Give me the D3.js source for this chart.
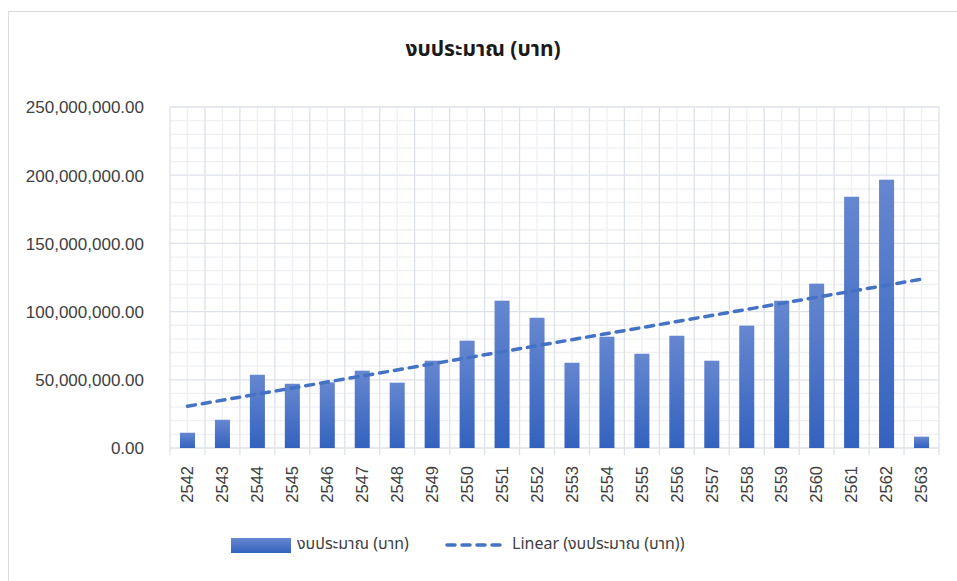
<!DOCTYPE html>
<html>
<head>
<meta charset="utf-8">
<script src="https://cdn.jsdelivr.net/npm/d3@7"></script>
<style>
  body { margin: 0; background: #fff; }
  svg { display: block; font-family: "Noto Sans Thai", "Noto Sans", "Open Sans", sans-serif; }
</style>
</head>
<body>
<div id="chart"></div>
<script>
// data
const years = ["2542","2543","2544","2545","2546","2547","2548","2549","2550","2551","2552",
               "2553","2554","2555","2556","2557","2558","2559","2560","2561","2562","2563"];
const budget = [11200000, 20700000, 53700000, 47100000, 48100000, 56700000, 47900000, 64000000,
                78700000, 108000000, 95500000, 62500000, 81600000, 69100000, 82300000, 64000000,
                89700000, 108000000, 120500000, 184200000, 196700000, 8300000];
const yTicks = [0, 50000000, 100000000, 150000000, 200000000, 250000000];
const titleText = "งบประมาณ (บาท)";
const seriesName = "งบประมาณ (บาท)";
const trendName = "Linear (งบประมาณ (บาท))";

const width = 957, height = 581;
const margin = { top: 107, right: 18, bottom: 133, left: 170 };

const svg = d3.select("#chart").append("svg")
  .attr("width", width)
  .attr("height", height);

// chart frame
svg.append("rect")
  .attr("x", 8.5).attr("y", 11.5)
  .attr("width", 990).attr("height", 600)
  .attr("fill", "#fff")
  .attr("stroke", "#d9dde3");

const defs = svg.append("defs");
const grad = defs.append("linearGradient")
  .attr("id", "barGrad")
  .attr("x1", 0).attr("y1", 0).attr("x2", 0).attr("y2", 1);
grad.append("stop").attr("offset", "0%").attr("stop-color", "#6687d0");
grad.append("stop").attr("offset", "100%").attr("stop-color", "#3362be");

const x = d3.scaleBand()
  .domain(years)
  .range([margin.left, width - margin.right])
  .paddingInner(0.57)
  .paddingOuter(0.285);

const band = d3.scaleBand()
  .domain(years)
  .range([margin.left, width - margin.right]);

const y = d3.scaleLinear()
  .domain([0, 250000000])
  .range([height - margin.bottom, margin.top]);

const g = svg.append("g");

// minor horizontal gridlines (every 10M)
g.append("g")
  .selectAll("line")
  .data(d3.range(0, 250000001, 10000000).filter(v => v % 50000000 !== 0))
  .join("line")
  .attr("x1", margin.left).attr("x2", width - margin.right)
  .attr("y1", d => y(d)).attr("y2", d => y(d))
  .attr("stroke", "#eef0f4").attr("stroke-width", 1.3);

// minor vertical gridlines (category centres)
g.append("g")
  .selectAll("line")
  .data(years)
  .join("line")
  .attr("x1", d => band(d) + band.bandwidth() / 2)
  .attr("x2", d => band(d) + band.bandwidth() / 2)
  .attr("y1", margin.top).attr("y2", y(0))
  .attr("stroke", "#eef0f4").attr("stroke-width", 1.3);

// major horizontal gridlines
g.append("g")
  .selectAll("line")
  .data(yTicks)
  .join("line")
  .attr("x1", margin.left).attr("x2", width - margin.right)
  .attr("y1", d => y(d)).attr("y2", d => y(d))
  .attr("stroke", "#dde2ea").attr("stroke-width", 1.3);

// major vertical gridlines (category boundaries) + ticks under the axis
const bounds = years.map(d => band(d)).concat([band.range()[1]]);
g.append("g")
  .selectAll("line")
  .data(bounds)
  .join("line")
  .attr("x1", d => d).attr("x2", d => d)
  .attr("y1", margin.top).attr("y2", y(0) + 7)
  .attr("stroke", "#dde2ea").attr("stroke-width", 1.3);

// y axis labels
const yAxis = svg.append("g")
  .attr("transform", `translate(${144},0)`)
  .call(d3.axisLeft(y).tickValues(yTicks).tickSize(0).tickPadding(0)
    .tickFormat(d3.format(",.2f")));
yAxis.select(".domain").remove();
yAxis.selectAll("text")
  .attr("fill", "#404040")
  .attr("font-size", "17px")
  .attr("dy", "0.35em");

// x axis labels
const xAxis = svg.append("g")
  .attr("transform", `translate(0,${y(0)})`)
  .call(d3.axisBottom(band).tickSize(0).tickPadding(0));
xAxis.select(".domain").remove();
xAxis.selectAll("text")
  .attr("fill", "#404040")
  .attr("font-size", "16.5px")
  .attr("transform", "rotate(-90)")
  .attr("text-anchor", "end")
  .attr("x", -18)
  .attr("y", 0)
  .attr("dy", "0.35em");

// bars
svg.append("g")
  .selectAll("rect")
  .data(years.map((d, i) => ({ year: d, value: budget[i] })))
  .join("rect")
  .attr("x", d => x(d.year))
  .attr("width", x.bandwidth())
  .attr("y", d => y(d.value))
  .attr("height", d => y(0) - y(d.value))
  .attr("fill", "url(#barGrad)");

// linear trend line (least squares over the bars)
const idx = budget.map((_, i) => i + 1);
const mx = d3.mean(idx), my = d3.mean(budget);
const slope = d3.sum(idx, (v, i) => (v - mx) * (budget[i] - my)) / d3.sum(idx, v => (v - mx) ** 2);
const icpt = my - slope * mx;
const cx = i => band(years[i]) + band.bandwidth() / 2;
svg.append("line")
  .attr("x1", cx(0)).attr("y1", y(icpt + slope * 1))
  .attr("x2", cx(years.length - 1)).attr("y2", y(icpt + slope * years.length))
  .attr("stroke", "#4472c4")
  .attr("stroke-width", 3.5)
  .attr("stroke-linecap", "round")
  .attr("stroke-dasharray", "8,7");

// title
svg.append("text")
  .attr("x", 483).attr("y", 50)
  .attr("text-anchor", "middle")
  .attr("dominant-baseline", "middle")
  .attr("font-size", "21px")
  .attr("font-weight", "bold")
  .attr("fill", "#1a1a1a")
  .text(titleText);

// legend
const lg = svg.append("g");
lg.append("rect")
  .attr("x", 231).attr("y", 538)
  .attr("width", 60).attr("height", 15)
  .attr("fill", "url(#barGrad)");
lg.append("text")
  .attr("x", 297).attr("y", 545)
  .attr("dominant-baseline", "middle")
  .attr("font-size", "16px").attr("fill", "#404040")
  .text(seriesName);
lg.append("line")
  .attr("x1", 447).attr("x2", 504)
  .attr("y1", 545).attr("y2", 545)
  .attr("stroke", "#4472c4")
  .attr("stroke-width", 3.5)
  .attr("stroke-linecap", "round")
  .attr("stroke-dasharray", "8,7");
lg.append("text")
  .attr("x", 512).attr("y", 545)
  .attr("dominant-baseline", "middle")
  .attr("font-size", "16px").attr("fill", "#404040")
  .text(trendName);
</script>
</body>
</html>
